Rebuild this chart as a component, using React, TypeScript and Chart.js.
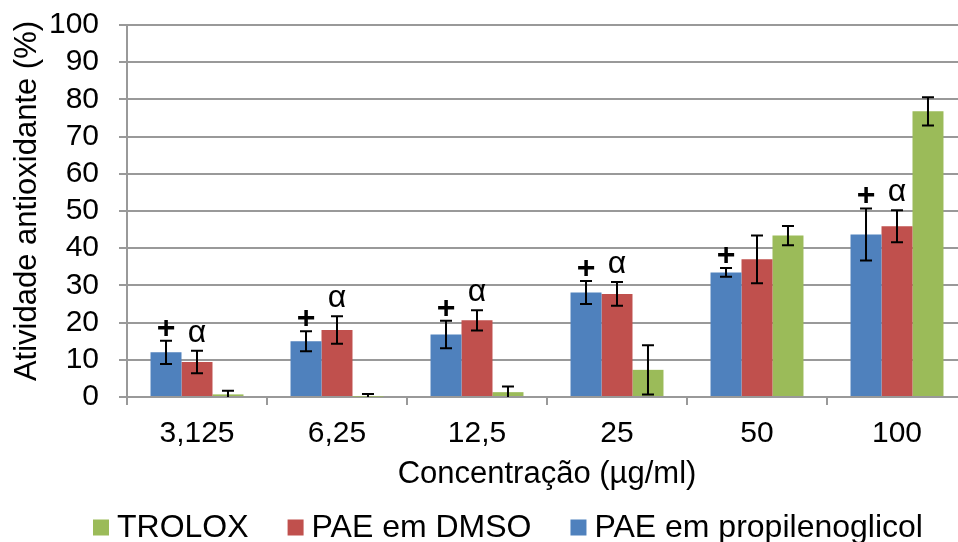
import React, { useEffect, useRef } from "react";
import { Chart, registerables } from "chart.js";

Chart.register(...registerables);

// Concentrations tested (µg/ml)
const categories = ["3,125", "6,25", "12,5", "25", "50", "100"];

// Antioxidant activity (%) with standard deviations
const propilenoglicolValues = [12.0, 15.0, 16.8, 28.1, 33.5, 43.7];
const propilenoglicolErrors = [3.1, 2.7, 3.7, 3.1, 1.2, 7.0];
const dmsoValues = [9.4, 18.0, 20.6, 27.7, 37.0, 45.9];
const dmsoErrors = [3.0, 3.7, 2.7, 3.2, 6.4, 4.3];
const troloxValues = [0.7, 0.1, 1.3, 7.3, 43.4, 76.8];
const troloxErrors = [1.0, 0.7, 1.5, 6.6, 2.6, 3.8];

// Significance marks drawn above the bars
const propilenoglicolMarks = ["+", "+", "+", "+", "+", "+"];
const dmsoMarks = ["α", "α", "α", "α", "", "α"];

// Axis titles and legend entries (legend in display order)
const xTitle = "Concentração (µg/ml)";
const yTitle = "Atividade antioxidante (%)";
const legendLabels = ["TROLOX", "PAE em DMSO", "PAE em propilenoglicol"];

const FONT = "'Liberation Sans', Arial, sans-serif";
const GRID = "#999999";
const BLUE = "#4F81BD";
const RED = "#C0504D";
const GREEN = "#9BBB59";

const errorBarPlugin = {
  id: "errorBars",
  afterDatasetsDraw(chart: any) {
    const { ctx, chartArea } = chart;
    const yScale = chart.scales.y;
    chart.data.datasets.forEach((ds: any, i: number) => {
      const meta = chart.getDatasetMeta(i);
      meta.data.forEach((bar: any, j: number) => {
        const v = ds.data[j];
        const e = ds.errors[j];
        const top = yScale.getPixelForValue(v + e);
        const bot = Math.min(yScale.getPixelForValue(Math.max(v - e, 0)), chartArea.bottom);
        const cap = 6;
        ctx.save();
        ctx.strokeStyle = "#000";
        ctx.lineWidth = 2;
        ctx.beginPath();
        ctx.moveTo(bar.x, top);
        ctx.lineTo(bar.x, bot);
        ctx.moveTo(bar.x - cap, top);
        ctx.lineTo(bar.x + cap, top);
        if (v - e > 0) {
          ctx.moveTo(bar.x - cap, bot);
          ctx.lineTo(bar.x + cap, bot);
        }
        ctx.stroke();
        const mark = ds.marks ? ds.marks[j] : "";
        if (mark) {
          ctx.fillStyle = "#000";
          ctx.font = ds.markFont;
          ctx.textAlign = "center";
          ctx.textBaseline = "alphabetic";
          ctx.fillText(mark, bar.x, top - ds.markGap);
        }
        ctx.restore();
      });
    });
  },
};

// Rotated y-axis title, centred a little above the plot's middle
const yTitlePlugin = {
  id: "yTitle",
  afterDraw(chart: any) {
    const { ctx } = chart;
    ctx.save();
    ctx.translate(27, 201);
    ctx.rotate(-Math.PI / 2);
    ctx.font = `31px ${FONT}`;
    ctx.fillStyle = "#000";
    ctx.textAlign = "center";
    ctx.textBaseline = "middle";
    ctx.fillText(yTitle, 0, 0);
    ctx.restore();
  },
};

const bottomLegendPlugin = {
  id: "bottomLegend",
  afterDraw(chart: any) {
    const { ctx } = chart;
    const colors = [GREEN, RED, BLUE];
    const box = 16;
    const gap = 8;
    const spacing = 39;
    const cy = 527.5;
    let x = 93;
    ctx.save();
    ctx.font = `32px ${FONT}`;
    ctx.textBaseline = "middle";
    ctx.textAlign = "left";
    legendLabels.forEach((label, k) => {
      ctx.fillStyle = colors[k];
      ctx.fillRect(x, cy - box / 2, box, box);
      ctx.fillStyle = "#000";
      ctx.fillText(label, x + box + gap, cy + 1);
      x += box + gap + ctx.measureText(label).width + spacing;
    });
    ctx.restore();
  },
};

export default function App() {
  const canvasRef = useRef<HTMLCanvasElement | null>(null);

  useEffect(() => {
    if (!canvasRef.current) return;
    const chart = new Chart(canvasRef.current, {
      type: "bar",
      data: {
        labels: categories,
        datasets: [
          {
            label: "PAE em propilenoglicol",
            data: propilenoglicolValues,
            errors: propilenoglicolErrors,
            marks: propilenoglicolMarks,
            markGap: 3,
            markFont: `bold 32px ${FONT}`,
            backgroundColor: BLUE,
            categoryPercentage: 0.664,
            barPercentage: 1.0,
          } as any,
          {
            label: "PAE em DMSO",
            data: dmsoValues,
            errors: dmsoErrors,
            marks: dmsoMarks,
            markGap: 9,
            markFont: `32px ${FONT}`,
            backgroundColor: RED,
            categoryPercentage: 0.664,
            barPercentage: 1.0,
          } as any,
          {
            label: "TROLOX",
            data: troloxValues,
            errors: troloxErrors,
            marks: null,
            markGap: 0,
            markFont: `32px ${FONT}`,
            backgroundColor: GREEN,
            categoryPercentage: 0.664,
            barPercentage: 1.0,
          } as any,
        ],
      },
      options: {
        responsive: false,
        animation: false,
        devicePixelRatio: 1,
        layout: { padding: { top: 25, right: 1, bottom: 49, left: 0 } },
        plugins: {
          legend: { display: false },
          tooltip: { enabled: false },
        },
        scales: {
          x: {
            grid: {
              display: true,
              drawOnChartArea: false,
              drawTicks: true,
              tickLength: 8,
              color: GRID,
              lineWidth: 2,
            },
            border: { color: GRID, width: 2 },
            ticks: { font: { family: FONT, size: 30 }, color: "#000", padding: 11, autoSkip: false },
            title: {
              display: true,
              text: xTitle,
              font: { family: FONT, size: 31 },
              color: "#000",
              padding: 0,
            },
            afterFit: (s: any) => {
              s.height = 96;
            },
          },
          y: {
            min: 0,
            max: 100,
            ticks: {
              stepSize: 10,
              autoSkip: false,
              font: { family: FONT, size: 30 },
              color: "#000",
              padding: 20,
            },
            grid: { color: GRID, lineWidth: 2, tickLength: 8 },
            border: { color: GRID, width: 2 },
            afterFit: (s: any) => {
              s.width = 127;
              s.paddingTop = 0;
              s.paddingBottom = 0;
            },
          },
        },
      },
      plugins: [errorBarPlugin, yTitlePlugin, bottomLegendPlugin],
    } as any);
    return () => chart.destroy();
  }, []);

  return (
    <div
      style={{
        position: "fixed",
        left: 0,
        top: 0,
        width: 968,
        height: 542,
        background: "#fff",
        overflow: "hidden",
      }}
    >
      <canvas ref={canvasRef} width={968} height={542} style={{ display: "block" }} />
    </div>
  );
}
